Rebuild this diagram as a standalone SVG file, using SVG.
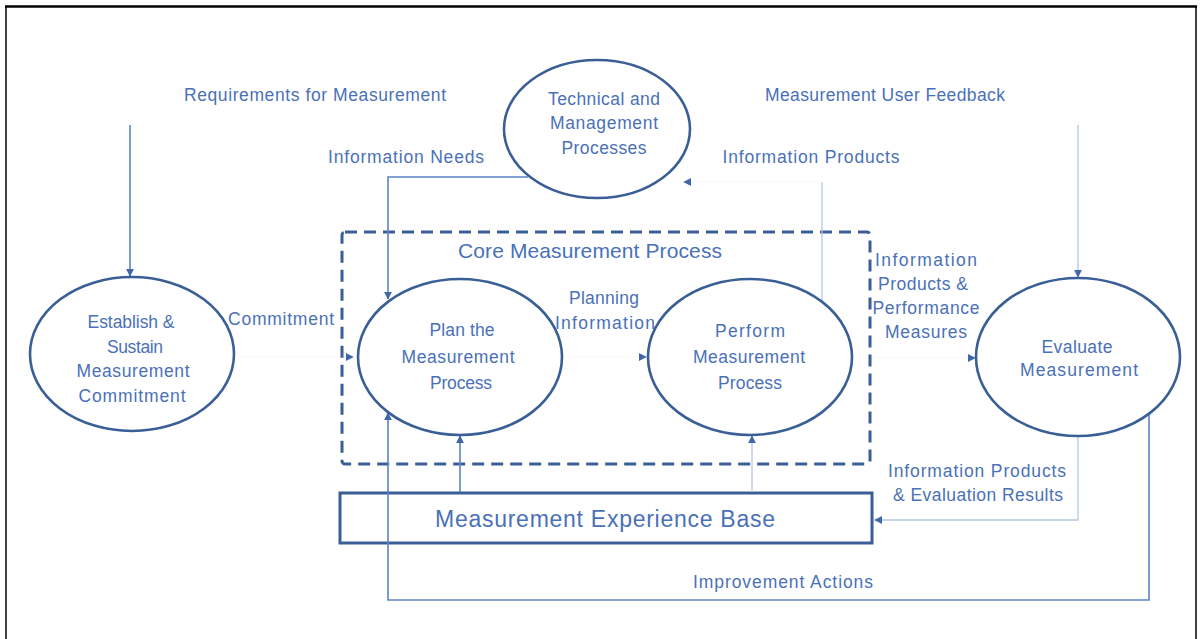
<svg xmlns="http://www.w3.org/2000/svg" width="1200" height="639" viewBox="0 0 1200 639">
  <defs>
    <style>
      .frame { stroke: #000; fill: none; }
      .node { fill: #fff; stroke: #3a5f96; stroke-width: 2.6; }
      .lbl { font-family: "Liberation Sans", Arial, sans-serif; font-size: 17.5px; fill: #4a71b8; text-anchor: middle; dominant-baseline: central; }
      .big { font-size: 21px; }
      .huge { font-size: 23px; }
      .wire { fill: none; stroke: #5b83c6; stroke-width: 1.6; }
      .faint { fill: none; stroke: #b4c8e6; stroke-width: 1.3; }
      .ghost { fill: none; stroke: #b4c8e6; stroke-width: 1; stroke-opacity: 0.1; }
    </style>
    <marker id="ah" viewBox="0 0 10 10" refX="9" refY="5" markerWidth="8" markerHeight="8" markerUnits="userSpaceOnUse" orient="auto">
      <path d="M0,0 L10,5 L0,10 Z" fill="#3f68a8"/>
    </marker>
  </defs>

  <!-- page frame -->
  <g id="frame">
    <line class="frame" x1="5" y1="6.5" x2="1197" y2="6.5" stroke-width="2.5"/>
    <line class="frame" x1="6" y1="6" x2="6" y2="639" stroke-width="1.5"/>
    <line class="frame" x1="1196" y1="6" x2="1196" y2="639" stroke-width="1.5"/>
  </g>

  <!-- core process boundary -->
  <g id="core-process">
    <rect x="342" y="232" width="528" height="232" rx="3" fill="none" stroke="#3a5f96" stroke-width="3" stroke-dasharray="12 7"/>
    <text class="lbl big" x="590" y="250" textLength="264" lengthAdjust="spacing">Core Measurement Process</text>
  </g>

  <g id="experience-base">
    <rect x="340" y="493" width="532" height="50" fill="#fff" stroke="#3a5f96" stroke-width="3"/>
    <text class="lbl huge" x="605" y="519" textLength="340" lengthAdjust="spacing">Measurement Experience Base</text>
  </g>

  <!-- connectors -->
  <g id="connectors">
    <path class="wire" d="M130,125 V276" marker-end="url(#ah)"/>
    <path class="wire" d="M528,177 H388 V299" marker-end="url(#ah)"/>
    <path class="faint" d="M822,301 V182"/>
    <path class="ghost" d="M822,182 H684" marker-end="url(#ah)"/>
    <path class="faint" d="M1078,125 V277" marker-end="url(#ah)"/>
    <path class="ghost" d="M234,357 H353" marker-end="url(#ah)"/>
    <path class="ghost" d="M562,357 H646" marker-end="url(#ah)"/>
    <path class="ghost" d="M871,358 H975" marker-end="url(#ah)"/>
    <path class="faint" d="M1078,437 V520 H875" marker-end="url(#ah)"/>
    <path class="wire" d="M1149,414 V600 H388 V413" marker-end="url(#ah)"/>
    <path class="wire" d="M460,492 V436" marker-end="url(#ah)"/>
    <path class="faint" d="M752,492 V436" marker-end="url(#ah)"/>
  </g>

  <!-- connector labels -->
  <g id="labels">
    <text class="lbl" x="315" y="95" textLength="262" lengthAdjust="spacing">Requirements for Measurement</text>
    <text class="lbl" x="406" y="157" textLength="156" lengthAdjust="spacing">Information Needs</text>
    <text class="lbl" x="885" y="95" textLength="240" lengthAdjust="spacing">Measurement User Feedback</text>
    <text class="lbl" x="811" y="157" textLength="177" lengthAdjust="spacing">Information Products</text>
    <text class="lbl" x="281" y="319" textLength="106" lengthAdjust="spacing">Commitment</text>
    <text class="lbl" x="604" y="298" textLength="70" lengthAdjust="spacing">Planning</text>
    <text class="lbl" x="605" y="323" textLength="100" lengthAdjust="spacing">Information</text>
    <text class="lbl" x="926" y="260" textLength="102" lengthAdjust="spacing">Information</text>
    <text class="lbl" x="923" y="284" textLength="90" lengthAdjust="spacing">Products &amp;</text>
    <text class="lbl" x="926" y="308" textLength="107" lengthAdjust="spacing">Performance</text>
    <text class="lbl" x="926" y="332" textLength="82" lengthAdjust="spacing">Measures</text>
    <text class="lbl" x="977" y="471" textLength="178" lengthAdjust="spacing">Information Products</text>
    <text class="lbl" x="978" y="495" textLength="170" lengthAdjust="spacing">&amp; Evaluation Results</text>
    <text class="lbl" x="783" y="582" textLength="180" lengthAdjust="spacing">Improvement Actions</text>
  </g>

  <g id="technical-management">
    <ellipse class="node" cx="597" cy="129" rx="93" ry="69"/>
    <text class="lbl" x="604" y="99" textLength="112" lengthAdjust="spacing">Technical and</text>
    <text class="lbl" x="604" y="123" textLength="108" lengthAdjust="spacing">Management</text>
    <text class="lbl" x="604" y="148" textLength="85" lengthAdjust="spacing">Processes</text>
  </g>

  <g id="establish-commitment">
    <ellipse class="node" cx="132" cy="354" rx="102" ry="77"/>
    <text class="lbl" x="131" y="322" textLength="87" lengthAdjust="spacing">Establish &amp;</text>
    <text class="lbl" x="135" y="347" textLength="56" lengthAdjust="spacing">Sustain</text>
    <text class="lbl" x="133" y="371" textLength="113" lengthAdjust="spacing">Measurement</text>
    <text class="lbl" x="132" y="396" textLength="107" lengthAdjust="spacing">Commitment</text>
  </g>

  <g id="plan-process">
    <ellipse class="node" cx="460" cy="357" rx="102" ry="78"/>
    <text class="lbl" x="462" y="330" textLength="65" lengthAdjust="spacing">Plan the</text>
    <text class="lbl" x="458" y="357" textLength="113" lengthAdjust="spacing">Measurement</text>
    <text class="lbl" x="461" y="383" textLength="62" lengthAdjust="spacing">Process</text>
  </g>

  <g id="perform-process">
    <ellipse class="node" cx="750" cy="357" rx="102" ry="78"/>
    <text class="lbl" x="750" y="331" textLength="70" lengthAdjust="spacing">Perform</text>
    <text class="lbl" x="749" y="357" textLength="112" lengthAdjust="spacing">Measurement</text>
    <text class="lbl" x="750" y="383" textLength="64" lengthAdjust="spacing">Process</text>
  </g>

  <g id="evaluate">
    <ellipse class="node" cx="1078" cy="357" rx="102" ry="79"/>
    <text class="lbl" x="1077" y="347" textLength="71" lengthAdjust="spacing">Evaluate</text>
    <text class="lbl" x="1079" y="370" textLength="118" lengthAdjust="spacing">Measurement</text>
  </g>
</svg>
